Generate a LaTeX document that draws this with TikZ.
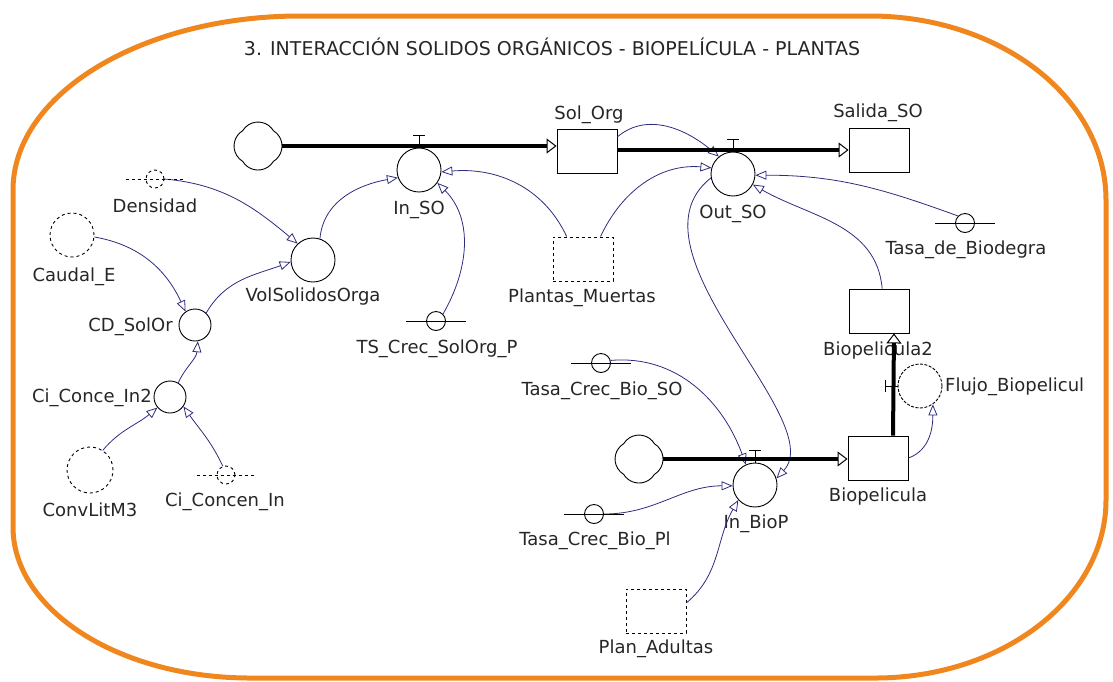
\documentclass[tikz,border=0pt]{standalone}
\usepackage{fontspec}
\setmainfont{DejaVu Sans}
\usetikzlibrary{arrows.meta}

\definecolor{linkblue}{RGB}{45,45,125}
\definecolor{frameorange}{RGB}{240,135,30}

\begin{document}
\begin{tikzpicture}
      [x=1pt, y=1pt,
      lbl/.style={font=\fontsize{18}{21}\selectfont, text=black!85, inner sep=0pt},
      aux/.style={circle, draw, line width=0.9pt, minimum size=44pt, inner sep=0pt},
      ghost/.style={aux, dashed},
      stock/.style={rectangle, draw, line width=0.9pt, minimum width=60pt, minimum height=44pt, inner sep=0pt},
      ghoststock/.style={stock, dashed},
      konst/.style={circle, draw, line width=0.9pt, minimum size=19pt, inner sep=0pt},
      source/.style={circle, minimum size=48pt, inner sep=0pt},
      flow/.style={line width=4pt, -{Triangle[open, length=10pt 0, width=15pt 0, line width=1pt 0]}},
      link/.style={draw=linkblue, line width=0.8pt, -{Triangle[open, length=11pt 0, width=9pt 0, line width=0.8pt 0]}},
      valve/.style={line width=0.9pt}]
      \useasboundingbox (0,0) rectangle (1113,-681);
      \draw[frameorange, line width=5pt] (300,-16) -- (870,-16)
        .. controls (1000,-16) and (1106,-98) .. (1106,-200) -- (1106,-500)
        .. controls (1106,-598) and (1003,-678) .. (875,-678) -- (250,-678)
        .. controls (119,-678) and (13,-610) .. (13,-527) -- (13,-190)
        .. controls (13,-94) and (142,-16) .. (300,-16) -- cycle;
      \node[lbl, font=\fontsize{19}{22}\selectfont](title) at (552,-47)
        {3. INTERACCIÓN SOLIDOS ORGÁNICOS - BIOPELÍCULA - PLANTAS};

      \node[source](cloudA) at (258,-146) {};
      \node[source](cloudB) at (639,-459) {};
      \node[stock](solorg) at (587,-151) {};
      \node[stock](salida) at (879,-150) {};
      \node[stock](biop2) at (879,-311) {};
      \node[stock](biop) at (878,-458) {};
      \node[ghoststock](plantas) at (583,-259) {};
      \node[ghoststock](planad) at (656,-611) {};
      \node[aux](inso) at (419,-170) {};
      \node[aux](outso) at (733,-174) {};
      \node[aux](inbiop) at (755,-485) {};
      \node[aux, dash pattern=on 3pt off 1.5pt](flujo) at (920,-386) {};
      \node[aux](vol) at (313,-260) {};
      \node[aux, minimum size=32pt](cdsol) at (195,-325) {};
      \node[aux, minimum size=32pt](cicon2) at (170,-397) {};
      \node[ghost](caudal) at (72,-235) {};
      \node[ghost, minimum size=46pt](conv) at (90,-470) {};
      \node[konst, dashed, minimum size=18pt](dens) at (155,-179) {};
      \node[konst, dashed, minimum size=18pt](cicon) at (226,-475) {};
      \node[konst](tssol) at (436,-321) {};
      \node[konst](tasabio) at (965,-223) {};
      \node[konst](tcbso) at (601,-363) {};
      \node[konst](tcbpl) at (594,-514) {};

      \node[lbl](solorg-l) at (589,-115) {Sol\_Org};
      \node[lbl](salida-l) at (878,-113) {Salida\_SO};
      \node[lbl](inso-l) at (419,-210) {In\_SO};
      \node[lbl](outso-l) at (733,-214) {Out\_SO};
      \node[lbl](biop-l) at (878,-497) {Biopelicula};
      \node[lbl](biop2-l) at (878,-351) {Biopelicula2};
      \node[lbl, anchor=west](flujo-l) at (945,-387) {Flujo\_Biopelicul};
      \node[lbl](inbiop-l) at (756,-524) {In\_BioP};
      \node[lbl](vol-l) at (313,-297) {VolSolidosOrga};
      \node[lbl, anchor=east](cdsol-l) at (173,-327) {CD\_SolOr};
      \node[lbl, anchor=east](cicon2-l) at (152,-398) {Ci\_Conce\_In2};
      \node[lbl](caudal-l) at (74,-277) {Caudal\_E};
      \node[lbl](conv-l) at (90,-510) {ConvLitM3};
      \node[lbl](dens-l) at (155,-206) {Densidad};
      \node[lbl](cicon-l) at (225,-502) {Ci\_Concen\_In};
      \node[lbl](tssol-l) at (437,-349) {TS\_Crec\_SolOrg\_P};
      \node[lbl](tasabio-l) at (966,-250) {Tasa\_de\_Biodegra};
      \node[lbl](tcbso-l) at (602,-391) {Tasa\_Crec\_Bio\_SO};
      \node[lbl](tcbpl-l) at (595,-541) {Tasa\_Crec\_Bio\_Pl};
      \node[lbl](plantas-l) at (582,-298) {Plantas\_Muertas};
      \node[lbl](planad-l) at (656,-649) {Plan\_Adultas};

      % connectors
      \draw[link](dens.east) to[out=-5, in=140] (vol.133);
      \draw[link](caudal.-5) to[out=-10, in=115] (cdsol.125);
      \draw[link](cdsol.47) to[out=60, in=200] (vol.185);
      \draw[link](cicon2.60) to[out=65, in=-95] (cdsol.-80);
      \draw[link](conv.57) to[out=50, in=220] (cicon2.220);
      \draw[link](cicon.110) to[out=115, in=-55] (cicon2.-35);
      \draw[link](vol.72) to[out=85, in=190] (inso.200);
      \draw[link](tssol.45) to[out=60, in=-45] (inso.-35);
      \draw[link](plantas.126) to[out=115, in=5] (inso.-5);
      \draw[link](plantas.52) to[out=65, in=175] (outso.164);
      \draw[link](solorg.25) to[out=40, in=140] (outso.129);
      \draw[link](tasabio.135) to[out=160, in=0] (outso.-3);
      \draw[link](biop2.82) to[out=95, in=-30] (outso.-28);
      \draw[link](outso.190) .. controls (620,-250) and (830,-420) .. (inbiop.17);
      \draw[link](tcbso.15) to[out=5, in=110] (inbiop.114);
      \draw[link](tcbpl.east) to[out=0, in=180] (inbiop.182);
      \draw[link](planad.15) to[out=40, in=240] (inbiop.222);
      \draw[link](biop.east) to[out=20, in=-90] (flujo.-55);

      \foreach \k in {tssol, tasabio, tcbso, tcbpl}
        \draw[valve]([xshift=-20pt]\k.west) -- ([xshift=20pt]\k.east);
      \foreach \k in {dens, cicon}
        \draw[valve, dashed]([xshift=-20pt]\k.west) -- ([xshift=20pt]\k.east);

      % flows
      \draw[flow](cloudA.east) -- (cloudA.east -| solorg.west);
      \draw[flow](solorg.east |- salida.west) -- (salida.west);
      \draw[flow](cloudB.east) -- (cloudB.east -| biop.west);
      \draw[flow]([xshift=15pt]biop.north) -- ([xshift=15pt]biop2.south);
      \foreach \v in {inso, outso, inbiop}
        \draw[valve](\v.north) -- ++(0,12) ++(-6,0) -- ++(12,0);
      \draw[valve](flujo.west) -- ++(-12,0) ++(0,-6) -- ++(0,12);
      \foreach \c in {cloudA, cloudB}
        \draw[valve](\c.center) ++(15.4,-15.4)
          arc[start angle=-58.6, end angle=58.6, radius=18]
          arc[start angle=31.4, end angle=148.6, radius=18]
          arc[start angle=121.4, end angle=238.6, radius=18]
          arc[start angle=211.4, end angle=328.6, radius=18] -- cycle;
  \end{tikzpicture}
\end{document}
